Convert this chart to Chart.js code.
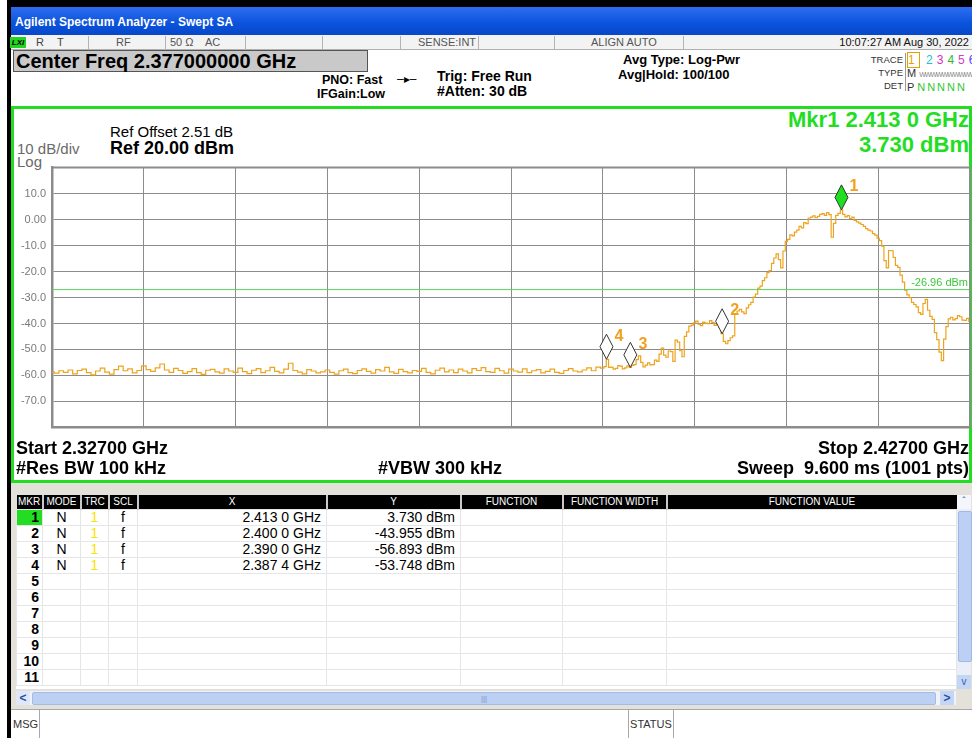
<!DOCTYPE html>
<html>
<head>
<meta charset="utf-8">
<title>Agilent Spectrum Analyzer - Swept SA</title>
<script src="https://cdn.jsdelivr.net/npm/chart.js@4.4.1/dist/chart.umd.min.js"></script>
<style>
body { margin:0; width:972px; height:738px; overflow:hidden; background:#fff; position:relative; font-family:"Liberation Sans", Arial, sans-serif; }
.a { position:absolute; white-space:nowrap; }
.b { font-weight:bold; }
.sep { position:absolute; top:36px; width:1px; height:13px; background:#b4b4b4; }
#tbl { position:absolute; left:16px; top:495px; border-collapse:collapse; table-layout:fixed; width:940px; }
#tbl th { background:#000; color:#fff; font-weight:normal; font-size:10px; height:14px; padding:0; border-right:2px solid #c8c8c8; line-height:14px; }
#tbl td { height:15px; padding:0 5px 0 0; font-size:14px; line-height:15px; border:1px solid #e6e6e6; }
</style>
</head>
<body>
<div class="a" style="left:7px;top:0;width:965px;height:7px;background:#000"></div>
<div class="a" style="left:7px;top:0;width:4px;height:738px;background:#000"></div>
<div class="a" style="left:11px;top:7px;width:961px;height:28px;background:linear-gradient(#2d6ef0,#0a52dc 60%,#0848c8)"></div>
<div class="a b" style="left:15px;top:13px;line-height:18px;font-size:12px;color:#fff">Agilent Spectrum Analyzer - Swept SA</div>

<div class="a" style="left:11px;top:35px;width:961px;height:14px;background:#f3f3f3;border-bottom:1px solid #b0b0b0"></div>
<div class="a b" style="left:10px;top:37px;width:16px;height:11px;background:#22d422;font-size:8px;line-height:11px;font-style:italic;text-align:center">LXI</div>
<div class="a" style="left:36px;top:36px;line-height:13px;font-size:11px;color:#444">R</div>
<div class="a" style="left:57px;top:36px;line-height:13px;font-size:11px;color:#444">T</div>
<div class="a" style="left:116px;top:36px;line-height:13px;font-size:11px;color:#555">RF</div>
<div class="a" style="left:170px;top:36px;line-height:13px;font-size:11px;color:#555">50 &#937;</div>
<div class="a" style="left:205px;top:36px;line-height:13px;font-size:11px;color:#555">AC</div>
<div class="a" style="left:418px;top:36px;line-height:13px;font-size:11px;color:#555">SENSE:INT</div>
<div class="a" style="left:591px;top:36px;line-height:13px;font-size:11px;color:#555">ALIGN AUTO</div>
<div class="a" style="right:3px;top:36px;line-height:13px;font-size:11px;color:#111">10:07:27 AM Aug 30, 2022</div>
<div class="sep" style="left:88px"></div><div class="sep" style="left:165px"></div>
<div class="sep" style="left:245px"></div><div class="sep" style="left:322px"></div>
<div class="sep" style="left:400px"></div><div class="sep" style="left:478px"></div>
<div class="sep" style="left:554px"></div><div class="sep" style="left:683px"></div>

<div class="a b" style="left:13px;top:50px;width:351px;height:20px;background:#c9c9c9;border:1px solid #555;font-size:20px;line-height:21px;padding-left:2px;box-sizing:content-box">Center Freq 2.377000000 GHz</div>
<div class="a b" style="left:322px;top:73px;font-size:12.5px;line-height:15px">PNO: Fast</div>
<div class="a b" style="left:317px;top:87px;font-size:12.5px;line-height:15px">IFGain:Low</div>
<div class="a" style="left:397px;top:72px;font-size:12px;line-height:15px">&#8211;&#9656;&#8211;</div>
<div class="a b" style="left:437px;top:68px;font-size:14px;line-height:16px">Trig: Free Run</div>
<div class="a b" style="left:437px;top:83px;font-size:14px;line-height:16px">#Atten: 30 dB</div>
<div class="a b" style="left:623px;top:52px;font-size:13px;line-height:16px">Avg Type: Log-Pwr</div>
<div class="a b" style="left:618px;top:67px;font-size:13px;line-height:16px">Avg|Hold: 100/100</div>

<div class="a" style="right:69px;top:54px;font-size:9.5px;line-height:12px;color:#333;text-align:right">TRACE</div>
<div class="a" style="right:69px;top:67px;font-size:9.5px;line-height:12px;color:#333;text-align:right">TYPE</div>
<div class="a" style="right:69px;top:80px;font-size:9.5px;line-height:12px;color:#333;text-align:right">DET</div>
<div class="a" style="left:905px;top:53px;width:1px;height:38px;background:#999"></div>
<div class="a" style="left:908px;top:53px;font-size:12px;line-height:14px;letter-spacing:4px"><span style="color:#e8a000;outline:1px solid #e8a000">1</span> <span style="color:#19c2d8">2</span><span style="color:#d42ec8">3</span><span style="color:#2eb82e">4</span><span style="color:#d040c0">5</span><span style="color:#5a3cf0">6</span></div>
<div class="a" style="left:907px;top:66px;font-size:11px;line-height:14px;color:#333">M <span style="font-size:7px;color:#888;letter-spacing:-1px">WWWWWWWWWW</span></div>
<div class="a" style="left:907px;top:80px;font-size:11px;line-height:14px;color:#333">P <span style="color:#2ec82e;letter-spacing:2px">NNNNN</span></div>

<div class="a" style="left:11px;top:106px;width:961px;height:377px;border:3px solid #22dd22;box-sizing:border-box;background:#fff"></div>
<div class="a" style="left:17px;top:140px;font-size:15px;line-height:17px;color:#6a6a6a">10 dB/div</div>
<div class="a" style="left:17px;top:153px;font-size:15px;line-height:17px;color:#6a6a6a">Log</div>
<div class="a" style="left:110px;top:123px;font-size:15px;line-height:17px">Ref Offset 2.51 dB</div>
<div class="a b" style="left:110px;top:139px;font-size:18px;line-height:19px">Ref 20.00 dBm</div>
<div class="a b" style="right:3px;top:107px;font-size:22px;line-height:25px;color:#22dd22;text-align:right">Mkr1 2.413 0 GHz</div>
<div class="a b" style="right:3px;top:132px;font-size:22px;line-height:25px;color:#22dd22;text-align:right">3.730 dBm</div>
<canvas id="spec" class="a" width="960" height="285" style="left:12px;top:155px"></canvas>
<div class="a b" style="left:16px;top:438px;font-size:18px;line-height:20px">Start 2.32700 GHz</div>
<div class="a b" style="left:16px;top:458px;font-size:18px;line-height:20px">#Res BW 100 kHz</div>
<div class="a b" style="left:378px;top:458px;font-size:18px;line-height:20px">#VBW 300 kHz</div>
<div class="a b" style="right:3px;top:438px;font-size:18px;line-height:20px;text-align:right">Stop 2.42700 GHz</div>
<div class="a b" style="right:3px;top:458px;font-size:18px;line-height:20px;text-align:right">Sweep&nbsp; 9.600 ms (1001 pts)</div>

<div class="a" style="left:11px;top:483px;width:961px;height:226px;background:#e3e1da"></div>
<div class="a" style="left:16px;top:509px;width:940px;height:180px;background:#fff"></div>
<table id="tbl">
<colgroup><col style="width:26px"><col style="width:38px"><col style="width:28px"><col style="width:29px"><col style="width:189px"><col style="width:134px"><col style="width:102px"><col style="width:104px"><col style="width:290px"></colgroup>
<thead><tr><th>MKR</th><th>MODE</th><th>TRC</th><th>SCL</th><th>X</th><th>Y</th><th>FUNCTION</th><th>FUNCTION WIDTH</th><th style="border-right:0">FUNCTION VALUE</th></tr></thead>
<tbody id="rows"></tbody>
</table>
<div class="a" style="left:957px;top:495px;width:14px;height:194px;background:#e9eef8"></div>
<div class="a" style="left:957px;top:495px;width:14px;height:14px;background:#f4f6fb;font-size:10px;line-height:14px;text-align:center;color:#3a5cb0">&#710;</div>
<div class="a" style="left:958px;top:511px;width:12px;height:149px;background:#bcd0f4;border:1px solid #9fb8e6;border-radius:2px"></div>
<div class="a" style="left:957px;top:675px;width:14px;height:14px;background:#c4d6f6;font-size:10px;line-height:14px;text-align:center;color:#3a5cb0">v</div>
<div class="a" style="left:16px;top:691px;width:940px;height:14px;background:#f0f3f9"></div>
<div class="a b" style="left:16px;top:691px;width:14px;height:14px;background:#dfe8f8;font-size:12px;line-height:14px;text-align:center;color:#2e4fa0">&lt;</div>
<div class="a" style="left:32px;top:692px;width:902px;height:11px;background:#bcd0f4;border:1px solid #a4bbe6;border-radius:2px;font-size:8px;line-height:11px;text-align:center;color:#7f97c8">|||</div>
<div class="a b" style="left:940px;top:691px;width:14px;height:14px;background:#c4d6f6;font-size:12px;line-height:14px;text-align:center;color:#2e4fa0">&gt;</div>
<div class="a" style="left:11px;top:709px;width:961px;height:29px;background:#fff;border-top:1px solid #a8a8a8"></div>
<div class="a" style="left:39px;top:710px;width:1px;height:28px;background:#a8a8a8"></div>
<div class="a" style="left:13px;top:716px;font-size:11px;line-height:16px;color:#333">MSG</div>
<div class="a" style="left:628px;top:710px;width:44px;height:28px;border-left:1px solid #a8a8a8;border-right:1px solid #a8a8a8;font-size:11px;line-height:28px;text-align:center;color:#333">STATUS</div>

<script>
var freqStartMHz = 2327, freqStopMHz = 2427;
var noiseStartMHz = 2327, noiseStepMHz = 0.5;
var signalStartMHz = 2387, signalStepMHz = 0.25;
var refLevelDbm = 20, bottomDbm = -80, dbPerDiv = 10;
var yTickValues = [10, 0, -10, -20, -30, -40, -50, -60, -70];
var yTickLabels = ["10.0", "0.00", "-10.0", "-20.0", "-30.0", "-40.0", "-50.0", "-60.0", "-70.0"];

// trace 1, 2327.0 .. 2386.5 MHz, 0.5 MHz apart
var noiseFloorDbm = [
  -58.6,-59.1,-58.2,-58.8,-57.9,-59.4,-58.1,-57.6,-58.9,-59.8,-58.3,-57.2,-58.7,-59.5,-57.8,-56.4,-58.2,-57.5,-59.0,-58.1,
  -56.3,-57.8,-58.4,-57.1,-55.6,-57.9,-58.8,-57.3,-58.1,-59.2,-58.5,-57.4,-58.9,-59.6,-58.0,-57.7,-58.6,-59.1,-57.5,-58.3,
  -58.8,-57.2,-58.5,-59.3,-58.0,-57.4,-58.9,-58.2,-56.9,-58.4,-59.0,-57.6,-55.3,-58.1,-58.7,-59.4,-57.8,-58.3,-59.0,-58.6,
  -57.9,-58.8,-59.5,-58.2,-57.6,-58.9,-59.3,-58.1,-57.5,-58.4,-59.1,-57.8,-58.3,-56.9,-58.6,-59.2,-57.7,-58.5,-59.0,-58.1,
  -58.4,-57.3,-58.8,-59.4,-58.0,-57.2,-58.6,-57.9,-58.9,-57.6,-58.3,-59.0,-57.4,-58.1,-57.0,-58.5,-58.8,-57.3,-58.2,-59.1,
  -57.6,-58.3,-58.7,-57.5,-58.9,-58.2,-57.8,-59.0,-58.4,-57.6,-58.8,-59.2,-58.1,-57.4,-58.3,-58.6,-57.9,-57.1,-58.2,-56.8
];
// trace 1, 2387.0 .. 2427.0 MHz, 0.25 MHz apart
var signalDbm = [
  -57.2,-56.6,-53.8,-56.9,-56.8,-57.6,-57.3,-56.2,-56.4,-57.5,-57.1,-56.3,-56.9,-56.1,-55.8,-53.9,-52.5,-55.0,-56.7,-56.0,
  -55.2,-55.9,-55.8,-54.1,-54.6,-51.8,-49.5,-52.2,-53.0,-50.6,-50.8,-54.6,-46.4,-47.2,-50.5,-52.8,-45.0,-43.2,-41.0,-40.6,
  -39.8,-39.1,-40.3,-40.8,-39.5,-39.9,-40.1,-38.9,-39.6,-40.7,-40.2,-41.5,-43.96,-46.9,-47.8,-46.6,-45.5,-44.8,-36.5,-35.2,
  -34.6,-35.5,-36.2,-34.0,-32.8,-31.9,-29.8,-28.7,-26.4,-25.6,-23.5,-22.4,-20.4,-19.6,-16.9,-14.8,-13.2,-15.4,-18.6,-12.1,
  -8.4,-7.6,-5.9,-6.3,-4.8,-4.1,-2.6,-3.2,-1.2,-1.6,0.6,0.9,1.4,0.7,1.2,2.0,2.3,1.6,2.7,1.9,
  -6.8,-1.5,1.6,2.4,3.73,2.0,1.0,1.5,0.4,0.9,-0.3,-0.9,-1.4,-1.9,-2.6,-3.5,-4.1,-4.4,-5.4,-6.0,
  -7.2,-8.1,-10.2,-15.8,-18.6,-11.9,-12.0,-14.6,-17.6,-18.4,-21.4,-24.1,-27.2,-29.0,-30.1,-31.9,-32.7,-33.6,-35.8,-36.5,
  -32.3,-30.7,-34.9,-37.3,-38.4,-43.5,-46.2,-51.0,-54.3,-46.0,-41.2,-38.2,-37.6,-38.6,-38.1,-37.0,-37.4,-38.7,-38.8,-38.0,
  -39.2
];

var markerNames = ["1", "2", "3", "4"];
var markerFreqMHz = [2413.0, 2400.0, 2390.0, 2387.4];
var markerDbm = [3.730, -43.955, -56.893, -53.748];
var displayLineDbm = -26.96;

var tracePoints = [];
for (var i = 0; i < noiseFloorDbm.length; i++) {
  tracePoints.push({ x: noiseStartMHz + i * noiseStepMHz, y: noiseFloorDbm[i] });
}
for (var j = 0; j < signalDbm.length; j++) {
  tracePoints.push({ x: signalStartMHz + j * signalStepMHz, y: signalDbm[j] });
}

function fmtGHz(mhz) {
  var s = (mhz / 1000).toFixed(4);
  return s.slice(0, 5) + " " + s.slice(5) + " GHz";
}

function BuildTable() {
  var html = "";
  for (var r = 0; r < 11; r++) {
    if (r < markerNames.length) {
      html += "<tr><td class='b' style='text-align:right;padding-right:3px;" + (r == 0 ? "background:#22dd22" : "") + "'>" + markerNames[r] + "</td>" +
        "<td style='text-align:center;padding:0'>N</td><td style='text-align:center;padding:0;color:#f5e400'>1</td>" +
        "<td style='text-align:center;padding:0'>f</td>" +
        "<td style='text-align:right'>" + fmtGHz(markerFreqMHz[r]) + "</td>" +
        "<td style='text-align:right'>" + markerDbm[r].toFixed(3) + " dBm</td><td></td><td></td><td></td></tr>";
    } else {
      html += "<tr><td class='b' style='text-align:right;padding-right:3px'>" + (r + 1) + "</td><td></td><td></td><td></td><td></td><td></td><td></td><td></td><td></td></tr>";
    }
  }
  document.querySelector("#rows").innerHTML = html;
}

var framePlugin = {
  id: "frame",
  afterDatasetsDraw: function (chart) {
    var c = chart.ctx, a = chart.chartArea, xs = chart.scales.x, ys = chart.scales.y;
    c.save();
    c.strokeStyle = "#8c8c8c";
    c.lineWidth = 2;
    c.beginPath();
    c.moveTo(a.left, a.top);
    c.lineTo(a.right, a.top);
    c.lineTo(a.right, a.bottom);
    c.stroke();

    c.fillStyle = "#3cc83c";
    c.font = "11px 'Liberation Sans'";
    c.textAlign = "right";
    c.textBaseline = "bottom";
    c.fillText(displayLineDbm.toFixed(2) + " dBm", a.right - 2, ys.getPixelForValue(displayLineDbm) - 1);

    for (var m = 0; m < markerNames.length; m++) {
      var px = xs.getPixelForValue(markerFreqMHz[m]);
      var py = ys.getPixelForValue(markerDbm[m]);
      c.beginPath();
      c.moveTo(px, py);
      c.lineTo(px + 6.5, py - 12.5);
      c.lineTo(px, py - 25);
      c.lineTo(px - 6.5, py - 12.5);
      c.closePath();
      c.fillStyle = m == 0 ? "#1fe01f" : "#fff";
      c.fill();
      c.strokeStyle = "#333";
      c.lineWidth = 1;
      c.stroke();
      c.fillStyle = "#f0a020";
      c.font = "bold 16px 'Liberation Sans'";
      c.textAlign = "center";
      c.textBaseline = "middle";
      c.fillText(markerNames[m], px + 12.5, py - 23);
    }
    c.restore();
  }
};

window.onload = function () {
  BuildTable();
  var ctx = document.getElementById("spec").getContext("2d");
  window.specChart = new Chart(ctx, {
    type: "line",
    data: {
      datasets: [{
        data: [{ x: freqStartMHz, y: displayLineDbm }, { x: freqStopMHz, y: displayLineDbm }],
        borderColor: "#5ad35a",
        borderWidth: 1,
        pointRadius: 0
      }, {
        data: tracePoints,
        borderColor: "#eea31c",
        borderWidth: 1.2,
        pointRadius: 0,
        stepped: "middle"
      }]
    },
    options: {
      responsive: false,
      animation: false,
      layout: { padding: { top: 4, right: 2, bottom: 6, left: 0 } },
      plugins: { legend: { display: false }, tooltip: { enabled: false } },
      scales: {
        x: {
          type: "linear",
          min: freqStartMHz,
          max: freqStopMHz,
          ticks: { stepSize: 10, display: false },
          grid: { color: "#8c8c8c", lineWidth: 1, drawTicks: false },
          border: { color: "#8c8c8c", width: 2.5 },
          afterFit: function (s) { s.height = 0; }
        },
        y: {
          min: bottomDbm,
          max: refLevelDbm,
          ticks: {
            stepSize: dbPerDiv,
            color: "#7a7a7a",
            font: { size: 11, family: "Liberation Sans" },
            padding: 6,
            callback: function (v) {
              var k = yTickValues.indexOf(v);
              return k < 0 ? "" : yTickLabels[k];
            }
          },
          grid: { color: "#8c8c8c", lineWidth: 1, drawTicks: false },
          border: { color: "#8c8c8c", width: 2.5 },
          afterFit: function (s) { s.width = 40; }
        }
      }
    },
    plugins: [framePlugin]
  });
};
</script>
</body>
</html>
